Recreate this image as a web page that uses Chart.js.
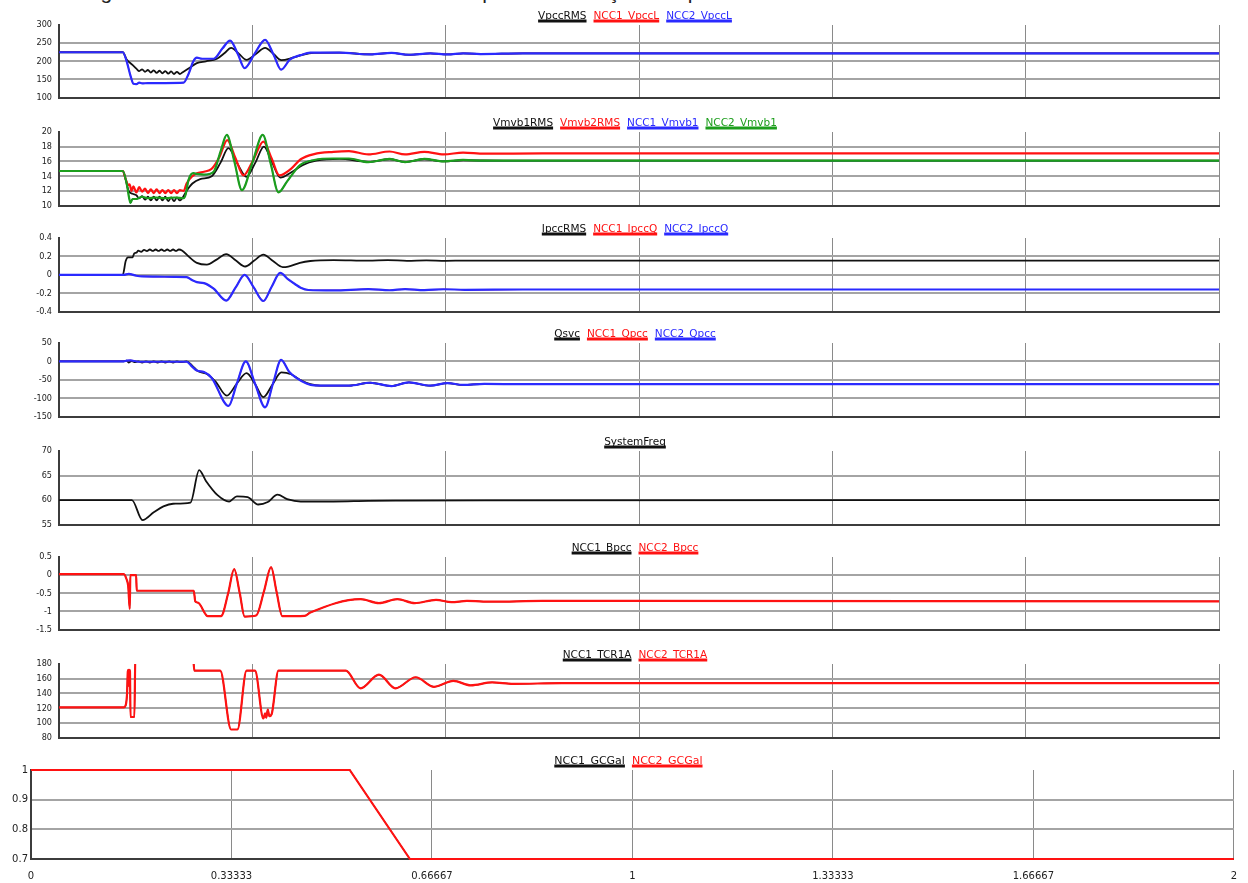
<!DOCTYPE html>
<html>
<head>
<meta charset="utf-8">
<script src="https://cdn.jsdelivr.net/npm/chart.js@4.4.1/dist/chart.umd.min.js"></script>
<style>
  html, body { margin: 0; padding: 0; background: #fff; }
  body { width: 1248px; height: 883px; overflow: hidden; position: relative; }
  #caption { position: absolute; left: 34px; top: -18px; font: 21px 'Liberation Sans', Arial, sans-serif; line-height: 20px; color: #222; white-space: nowrap; }
  canvas { position: absolute; left: 0; }
</style>
</head>
<body>
<div id="caption">Na imagem abaixo temos os resultados obtidos para a simulação completa</div>
<script>
// ---- time axes (s) ----
const timeTicks = [0, 1, 2, 3, 4, 5, 6];
const gcgTimeTicks = [0, 0.33333, 0.66667, 1, 1.33333, 1.66667, 2];

// ---- y tick labels ----
const vpccTicks = [100, 150, 200, 250, 300];
const vmvbTicks = [10, 12, 14, 16, 18, 20];
const ipccTicks = [-0.4, -0.2, 0, 0.2, 0.4];
const qTicks = [-150, -100, -50, 0, 50];
const freqTicks = [55, 60, 65, 70];
const bpccTicks = [-1.5, -1, -0.5, 0, 0.5];
const tcrTicks = [80, 100, 120, 140, 160, 180];
const gcgTicks = [0.7, 0.8, 0.9, 1];

// ---- PCC voltage [t, V] ----
const vpccRms = [[0,225],[0.33,225],[0.35,205],[0.38,190],[0.40,180],[0.415,173],[0.43,178],[0.445,171],[0.46,176],[0.475,169],[0.49,175],[0.505,168],[0.52,174],[0.535,167],[0.55,173],[0.565,166],[0.58,172],[0.595,165],[0.61,171],[0.625,165],[0.64,170],[0.67,180],[0.713,195],[0.76,200],[0.817,207],[0.855,222],[0.89,237],[0.93,221],[0.97,204],[1.02,221],[1.066,237],[1.11,220],[1.15,203],[1.21,210],[1.26,218],[1.32,223],[1.45,224],[1.61,219],[1.72,223],[1.81,218],[1.92,222],[2.01,219],[2.09,222],[2.18,220],[2.4,222],[6,222]];
const ncc2VpccL = [[0,225],[0.33,225],[0.35,200],[0.37,160],[0.385,138],[0.40,137],[0.415,141],[0.43,139],[0.46,140],[0.55,140],[0.644,141],[0.67,165],[0.695,200],[0.713,210],[0.74,207],[0.80,207],[0.845,235],[0.885,257],[0.925,220],[0.96,181],[1.013,222],[1.066,259],[1.11,218],[1.149,177],[1.195,205],[1.25,217],[1.30,224],[1.45,224],[1.61,219],[1.72,223],[1.81,218],[1.92,222],[2.01,219],[2.09,222],[2.18,220],[2.4,222],[6,222]];
// NCC1 reports the same PCC voltage as NCC2 (NCC2 is drawn over it)
const ncc1VpccL = ncc2VpccL;

// ---- MV bus voltages [t, kV] ----
const vmvb1Rms = [[0,14.7],[0.33,14.7],[0.345,13.5],[0.36,12.0],[0.38,11.6],[0.40,11.4],[0.415,11.0],[0.43,11.3],[0.445,10.8],[0.46,11.2],[0.475,10.7],[0.49,11.2],[0.505,10.7],[0.52,11.2],[0.535,10.7],[0.55,11.2],[0.565,10.6],[0.58,11.1],[0.595,10.6],[0.61,11.1],[0.625,10.7],[0.64,11.1],[0.66,12.0],[0.69,13.0],[0.73,13.6],[0.79,14.0],[0.835,15.8],[0.876,17.8],[0.925,15.6],[0.97,13.9],[1.015,15.8],[1.06,18.0],[1.10,16.0],[1.145,13.8],[1.2,14.5],[1.26,15.5],[1.33,16.1],[1.45,16.35],[1.60,15.95],[1.71,16.3],[1.79,15.95],[1.89,16.3],[1.99,16.0],[2.09,16.15],[2.3,16.1],[6,16.1]];
const vmvb2Rms = [[0,14.7],[0.33,14.7],[0.345,13.6],[0.358,12.8],[0.365,12.9],[0.375,12.0],[0.385,12.6],[0.40,11.8],[0.415,12.5],[0.43,11.9],[0.445,12.3],[0.46,11.7],[0.475,12.2],[0.49,11.7],[0.505,12.2],[0.52,11.7],[0.535,12.1],[0.55,11.7],[0.565,12.1],[0.58,11.7],[0.595,12.1],[0.61,11.7],[0.625,12.1],[0.645,12.0],[0.66,13.0],[0.69,14.0],[0.713,14.4],[0.75,14.6],[0.79,15.0],[0.83,16.6],[0.87,18.9],[0.912,16.5],[0.954,14.1],[1.005,16.2],[1.057,18.7],[1.10,16.4],[1.14,14.1],[1.2,15.0],[1.25,16.3],[1.32,17.0],[1.42,17.3],[1.5,17.4],[1.60,16.95],[1.71,17.35],[1.79,16.95],[1.89,17.3],[1.99,16.95],[2.09,17.2],[2.2,17.05],[2.5,17.1],[6,17.1]];
const ncc2Vmvb1 = [[0,14.7],[0.33,14.7],[0.35,13.0],[0.363,11.0],[0.37,10.35],[0.38,10.9],[0.40,10.9],[0.43,11.2],[0.46,11.0],[0.50,11.1],[0.55,11.0],[0.60,11.1],[0.645,11.0],[0.655,11.5],[0.67,13.5],[0.695,14.4],[0.713,14.3],[0.75,14.2],[0.80,14.6],[0.835,17.3],[0.868,19.6],[0.907,16.0],[0.946,12.1],[1.0,15.8],[1.054,19.6],[1.095,15.7],[1.135,11.8],[1.18,13.3],[1.247,15.5],[1.32,16.2],[1.42,16.4],[1.5,16.4],[1.60,15.9],[1.71,16.35],[1.79,15.9],[1.89,16.35],[1.99,16.0],[2.09,16.2],[2.2,16.1],[6,16.1]];
const ncc1Vmvb1 = ncc2Vmvb1;

// ---- PCC current [t, kA] ----
const ipccRms = [[0,0],[0.33,0],[0.345,0.15],[0.357,0.19],[0.38,0.19],[0.39,0.235],[0.40,0.24],[0.41,0.262],[0.425,0.25],[0.44,0.272],[0.455,0.258],[0.47,0.275],[0.485,0.26],[0.50,0.275],[0.515,0.26],[0.53,0.275],[0.545,0.26],[0.56,0.275],[0.575,0.26],[0.59,0.275],[0.605,0.26],[0.62,0.275],[0.636,0.265],[0.67,0.2],[0.713,0.13],[0.765,0.11],[0.815,0.165],[0.865,0.225],[0.915,0.155],[0.963,0.09],[1.01,0.155],[1.057,0.22],[1.107,0.15],[1.157,0.084],[1.186,0.09],[1.246,0.13],[1.3,0.15],[1.42,0.16],[1.6,0.153],[1.7,0.16],[1.8,0.152],[1.9,0.157],[2.0,0.152],[2.1,0.155],[6,0.153]];
const ncc2IpccQ = [[0,0],[0.335,0],[0.36,0.01],[0.40,-0.01],[0.43,-0.018],[0.5,-0.02],[0.6,-0.022],[0.66,-0.025],[0.69,-0.06],[0.713,-0.08],[0.75,-0.09],[0.80,-0.15],[0.865,-0.28],[0.913,-0.14],[0.96,0.0],[1.008,-0.14],[1.057,-0.285],[1.10,-0.13],[1.144,0.02],[1.186,-0.05],[1.22,-0.1],[1.25,-0.14],[1.29,-0.165],[1.42,-0.17],[1.6,-0.156],[1.71,-0.168],[1.79,-0.155],[1.89,-0.166],[1.99,-0.157],[2.1,-0.163],[2.4,-0.16],[6,-0.16]];
const ncc1IpccQ = ncc2IpccQ;

// ---- reactive power [t, Mvar] ----
const qsvc = [[0,0],[0.335,0],[0.35,2],[0.36,-3],[0.375,1],[0.39,-2],[0.41,0],[0.43,-3],[0.45,0],[0.47,-3],[0.49,0],[0.51,-3],[0.53,0],[0.55,-3],[0.57,0],[0.59,-3],[0.61,0],[0.63,-2],[0.66,0],[0.69,-12],[0.72,-27],[0.76,-33],[0.81,-55],[0.868,-93],[0.92,-60],[0.97,-32],[1.015,-62],[1.057,-97],[1.105,-62],[1.15,-30],[1.2,-35],[1.246,-50],[1.3,-62],[1.35,-66],[1.5,-66],[1.61,-58],[1.72,-67],[1.81,-57],[1.92,-66],[2.01,-59],[2.09,-64],[2.2,-61],[2.4,-62],[6,-62]];
const ncc2Qpcc = [[0,0],[0.335,0],[0.35,2],[0.37,3],[0.39,1],[0.42,-1],[0.5,-1],[0.6,-1],[0.66,-1],[0.69,-15],[0.713,-25],[0.75,-29],[0.79,-45],[0.877,-121],[0.92,-60],[0.966,0],[1.015,-62],[1.066,-125],[1.107,-60],[1.149,4],[1.19,-28],[1.226,-44],[1.28,-60],[1.32,-65],[1.5,-66],[1.61,-58],[1.72,-67],[1.81,-57],[1.92,-66],[2.01,-59],[2.09,-64],[2.2,-61],[2.4,-62],[6,-62]];
const ncc1Qpcc = ncc2Qpcc;

// ---- system frequency [t, Hz] ----
const systemFreq = [[0,60],[0.377,60],[0.432,55.9],[0.49,57.5],[0.54,58.7],[0.59,59.25],[0.68,59.5],[0.725,66.1],[0.76,63.9],[0.82,61.0],[0.88,59.7],[0.92,60.75],[0.976,60.6],[1.03,59.1],[1.08,59.6],[1.13,61.1],[1.18,60.2],[1.25,59.7],[1.42,59.7],[1.6,59.85],[1.77,59.9],[2.2,59.95],[6,60]];

// ---- controller susceptance [t, pu] ----
const ncc2Bpcc = [[0,0.03],[0.335,0.03],[0.35,-0.12],[0.358,-0.3],[0.366,-0.93],[0.369,0.0],[0.399,0.0],[0.402,-0.43],[0.697,-0.43],[0.705,-0.72],[0.72,-0.76],[0.77,-1.13],[0.838,-1.13],[0.875,-0.5],[0.906,0.17],[0.935,-0.5],[0.96,-1.14],[1.02,-1.11],[1.06,-0.45],[1.097,0.22],[1.125,-0.45],[1.155,-1.13],[1.27,-1.12],[1.30,-1.03],[1.56,-0.66],[1.655,-0.77],[1.75,-0.66],[1.84,-0.77],[1.95,-0.68],[2.03,-0.745],[2.11,-0.71],[2.24,-0.73],[2.5,-0.71],[6,-0.72]];
const ncc1Bpcc = ncc2Bpcc;

// ---- TCR firing angle [t, deg] (above 180 leaves the plot) ----
const ncc2Tcr1a = [[0,121],[0.335,121],[0.345,124],[0.352,140],[0.356,170],[0.36,172],[0.362,150],[0.364,172],[0.367,170],[0.37,108],[0.39,108],[0.395,195],[0.692,195],[0.70,171],[0.834,171],[0.89,91],[0.923,91],[0.97,171],[1.014,171],[1.057,106],[1.066,113],[1.072,107],[1.08,118],[1.088,109],[1.10,112],[1.135,171],[1.483,171],[1.56,147],[1.655,165.5],[1.74,147],[1.845,162],[1.94,149],[2.04,157],[2.13,151],[2.24,155],[2.35,153],[2.6,154],[6,154]];
const ncc1Tcr1a = ncc2Tcr1a;

// ---- gain scheduling [t, pu] ----
const ncc2Gcgal = [[0,1],[0.53,1],[0.63,0.7],[2,0.7]];
const ncc1Gcgal = ncc2Gcgal;

const COLORS = { black: '#111111', red: '#ff1212', blue: '#2a2aff', green: '#1c9e1c' };

// legend drawn as coloured, underlined names centred above each plot
const underlineLegend = {
  id: 'underlineLegend',
  afterDraw(chart, args, opts) {
    const ctx = chart.ctx;
    const items = chart.data.datasets.map(d => ({ text: d.label, color: d.legendColor }));
    ctx.save();
    ctx.font = opts.font;
    ctx.textBaseline = 'alphabetic';
    ctx.textAlign = 'left';
    const widths = items.map(it => ctx.measureText(it.text).width);
    let total = opts.gap * (items.length - 1);
    widths.forEach(w => { total += w; });
    const area = chart.chartArea;
    let x = (area.left + area.right) / 2 + opts.shift - total / 2;
    const base = area.top - opts.offset;
    items.forEach((it, i) => {
      ctx.fillStyle = it.color;
      ctx.fillText(it.text, x, base);
      ctx.fillRect(x, base + 1, widths[i], 3);
      x += widths[i] + opts.gap;
    });
    ctx.restore();
  }
};

const TICK_FONT = { family: "'DejaVu Sans Condensed', 'DejaVu Sans', sans-serif", size: 9 };
const BOTTOM_FONT = { family: "'DejaVu Sans', sans-serif", size: 10 };

const panels = [
  { top: 25, bottom: 107, yTicks: vpccTicks, series: [['VpccRMS', vpccRms, 'black'], ['NCC1_VpccL', ncc1VpccL, 'red'], ['NCC2_VpccL', ncc2VpccL, 'blue']] },
  { top: 132, bottom: 215, yTicks: vmvbTicks, series: [['Vmvb1RMS', vmvb1Rms, 'black'], ['Vmvb2RMS', vmvb2Rms, 'red'], ['NCC1_Vmvb1', ncc1Vmvb1, 'blue'], ['NCC2_Vmvb1', ncc2Vmvb1, 'green']] },
  { top: 238, bottom: 321, yTicks: ipccTicks, series: [['IpccRMS', ipccRms, 'black'], ['NCC1_IpccQ', ncc1IpccQ, 'red'], ['NCC2_IpccQ', ncc2IpccQ, 'blue']] },
  { top: 343, bottom: 426, yTicks: qTicks, series: [['Qsvc', qsvc, 'black'], ['NCC1_Qpcc', ncc1Qpcc, 'red'], ['NCC2_Qpcc', ncc2Qpcc, 'blue']] },
  { top: 451, bottom: 534, yTicks: freqTicks, series: [['SystemFreq', systemFreq, 'black']] },
  { top: 557, bottom: 639, yTicks: bpccTicks, series: [['NCC1_Bpcc', ncc1Bpcc, 'black'], ['NCC2_Bpcc', ncc2Bpcc, 'red']] },
  { top: 664, bottom: 747, yTicks: tcrTicks, series: [['NCC1_TCR1A', ncc1Tcr1a, 'black'], ['NCC2_TCR1A', ncc2Tcr1a, 'red']] },
  { top: 770, bottom: 859, yTicks: gcgTicks, series: [['NCC1_GCGal', ncc1Gcgal, 'black'], ['NCC2_GCGal', ncc2Gcgal, 'red']], last: true, straight: true }
];

const LEGEND_SPACE = 24;

panels.forEach(p => {
  const last = !!p.last;
  const plotLeft = last ? 31 : 59;
  const plotRight = last ? 1237 : 1219;
  const bottomSpace = last ? 24 : 3;
  const height = (p.bottom - p.top) + LEGEND_SPACE + bottomSpace;
  const canvas = document.createElement('canvas');
  canvas.width = 1248;
  canvas.height = height;
  canvas.style.top = (p.top - LEGEND_SPACE) + 'px';
  document.body.appendChild(canvas);

  const yMin = p.yTicks[0];
  const yMax = p.yTicks[p.yTicks.length - 1];
  const xTicks = last ? gcgTimeTicks : timeTicks;
  const n = p.series.length;

  new Chart(canvas.getContext('2d'), {
    type: 'line',
    data: {
      datasets: p.series.map((s, i) => {
        // a trace that shares its values with a later one lies underneath it
        const covered = p.series.some((o, j) => j > i && o[1] === s[1]);
        return {
          label: s[0],
          data: s[1].map(([x, y]) => ({ x, y })),
          borderColor: COLORS[s[2]],
          legendColor: COLORS[s[2]],
          borderWidth: covered ? 1.2 : (s[2] === 'black' ? 1.8 : 2.2),
          pointRadius: 0,
          fill: false,
          tension: 0,
          clip: p.straight ? false : undefined,
          cubicInterpolationMode: p.straight ? 'default' : 'monotone',
          order: n - i
        };
      })
    },
    options: {
      responsive: false,
      animation: false,
      events: [],
      layout: { padding: { top: LEGEND_SPACE, right: 1248 - plotRight, bottom: last ? 0 : bottomSpace, left: 0 } },
      plugins: {
        legend: { display: false },
        tooltip: { enabled: false },
        underlineLegend: {
          font: (last ? 11 : 10.5) + "px 'DejaVu Sans', sans-serif",
          gap: 7, offset: 6.5, shift: -4
        }
      },
      scales: {
        x: {
          type: 'linear',
          min: xTicks[0],
          max: xTicks[xTicks.length - 1],
          afterBuildTicks: sc => { sc.ticks = xTicks.map(v => ({ value: v })); },
          afterFit: sc => { sc.height = last ? bottomSpace : 0; },
          ticks: {
            display: last,
            autoSkip: false,
            maxRotation: 0,
            padding: 11,
            color: '#222',
            font: BOTTOM_FONT,
            callback: v => String(v)
          },
          grid: {
            drawTicks: false,
            lineWidth: 1,
            color: c => (c.tick && c.tick.value === xTicks[0]) ? 'rgba(0,0,0,0)' : '#8a8a8a'
          },
          border: { display: true, color: '#3c3c3c', width: 2 }
        },
        y: {
          type: 'linear',
          min: yMin,
          max: yMax,
          afterBuildTicks: sc => { sc.ticks = p.yTicks.map(v => ({ value: v })); },
          afterFit: sc => { sc.width = plotLeft; },
          ticks: {
            padding: last ? 3 : 7,
            color: '#222',
            font: last ? BOTTOM_FONT : TICK_FONT,
            callback: v => String(v)
          },
          grid: {
            drawTicks: false,
            lineWidth: 2,
            color: c => (c.tick && (c.tick.value === yMax || c.tick.value === yMin)) ? 'rgba(0,0,0,0)' : '#a4a4a4'
          },
          border: { display: true, color: '#3c3c3c', width: 2 }
        }
      }
    },
    plugins: [underlineLegend]
  });
});
</script>
</body>
</html>
